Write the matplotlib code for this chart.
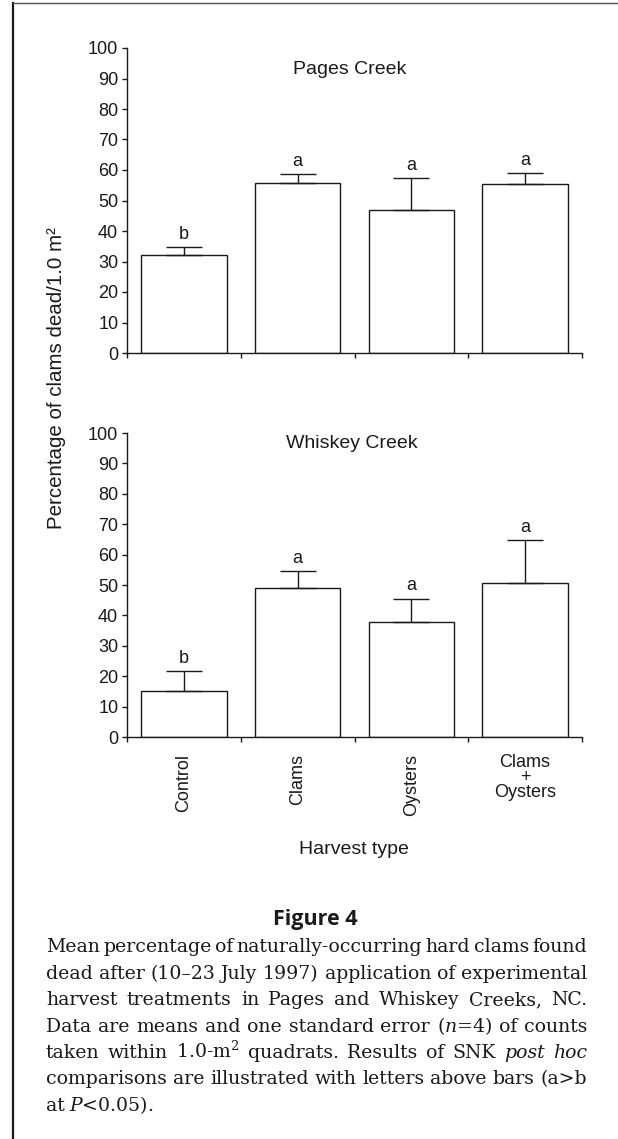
import matplotlib
matplotlib.use("Agg")
import matplotlib.pyplot as plt
import numpy as np
from matplotlib.lines import Line2D

plt.rcParams['font.family'] = ['Liberation Sans', 'DejaVu Sans']
plt.rcParams['mathtext.fontset'] = 'dejavuserif'

# data
treatments = ['Control', 'Clams', 'Oysters', 'Clams\n+\nOysters']
pages_mean = [32.0, 55.8, 46.8, 55.4]
pages_se = [2.7, 2.8, 10.5, 3.6]
pages_letters = ['b', 'a', 'a', 'a']
whiskey_mean = [15.1, 48.9, 37.9, 50.5]
whiskey_se = [6.6, 5.6, 7.6, 14.2]
whiskey_letters = ['b', 'a', 'a', 'a']

caption_lines = [
    "Mean percentage of naturally-occurring hard clams found",
    "dead after (10\u201323 July 1997) application of experimental",
    "harvest treatments in Pages and Whiskey Creeks, NC.",
    "Data are means and one standard error ($n$=4) of counts",
    "taken within 1.0-m$^2$ quadrats. Results of SNK post hoc",
    "comparisons are illustrated with letters above bars (a>b",
    "at $P$<0.05).",
]
italic_words = ['post', 'hoc']

W, H = 618, 1139
fig = plt.figure(figsize=(W / 100, H / 100), dpi=100)
ink = '#1a1a1a'


def panel(rect, means, ses, letters, title, title_xy, show_labels):
    ax = fig.add_axes(rect)
    x = np.arange(len(means))
    ax.bar(x, means, width=0.75, facecolor='white', edgecolor=ink, linewidth=1.0, zorder=2)
    ax.errorbar(x, means, yerr=[np.zeros(len(ses)), ses], fmt='none', ecolor=ink,
                elinewidth=1.0, capsize=13, capthick=1.0, zorder=3)
    for xi, m, s, l in zip(x, means, ses, letters):
        ax.text(xi, m + s + 2.8, l, ha='center', va='baseline', fontsize=13, color=ink)
    ax.text(title_xy[0], title_xy[1], title, ha='center', va='center', fontsize=14, color=ink)
    ax.set_xlim(-0.5, len(means) - 0.5)
    ax.set_ylim(0, 100)
    ax.set_yticks(np.arange(0, 101, 10))
    ax.set_xticks(np.arange(len(means) + 1) - 0.5)
    ax.set_xticklabels([])
    ax.spines['top'].set_visible(False)
    ax.spines['right'].set_visible(False)
    for s in ['left', 'bottom']:
        ax.spines[s].set_linewidth(1.0)
        ax.spines[s].set_color(ink)
    ax.tick_params(axis='both', direction='out', length=3.8, width=1.0, color=ink,
                   labelsize=13, labelcolor=ink, pad=2.5)
    if show_labels:
        ax.set_xticks(x, minor=True)
        ax.set_xticklabels(treatments, minor=True)
        ax.tick_params(axis='x', which='minor', length=0, pad=12, labelsize=13, labelcolor=ink)
        for lbl in ax.get_xticklabels(minor=True):
            if '\n' in lbl.get_text():
                lbl.set_rotation(0)
                lbl.set_linespacing(0.85)
            else:
                lbl.set_rotation(90)
    return ax


ax1 = panel([127 / W, 1 - 353 / H, 455 / W, 305 / H], pages_mean, pages_se, pages_letters,
            'Pages Creek', (1.46, 93.1), False)
ax2 = panel([127 / W, 1 - 737 / H, 455 / W, 304 / H], whiskey_mean, whiskey_se, whiskey_letters,
            'Whiskey Creek', (1.48, 96.4), True)

fig.text(57 / W, 1 - 378 / H, 'Percentage of clams dead/1.0 m\u00b2', rotation=90,
         ha='center', va='center', fontsize=14.8, color=ink)
fig.text(354 / W, 1 - 850 / H, 'Harvest type', ha='center', va='center', fontsize=14, color=ink)

fig.text(315 / W, 1 - 919 / H, 'Figure 4', ha='center', va='center', fontsize=15.5,
         family='Open Sans', weight='bold', color=ink)

# justified caption, font size chosen so the widest line just fits
renderer = fig.canvas.get_renderer()
left, right = 46, 587
base0, step = 952.5, 26.4
fs0 = 16.0


def make_words(line, fs):
    out = []
    for w in line.split():
        st = 'italic' if w in italic_words else 'normal'
        out.append(fig.text(0, 0, w, fontsize=fs, family='DejaVu Serif', style=st,
                            va='baseline', ha='left', color=ink))
    return out


probe = fig.text(0, 0, 'a a', fontsize=fs0, family='DejaVu Serif')
probe2 = fig.text(0, 0, 'aa', fontsize=fs0, family='DejaVu Serif')
space0 = probe.get_window_extent(renderer).width - probe2.get_window_extent(renderer).width
probe.remove()
probe2.remove()

all_words = [make_words(line, fs0) for line in caption_lines]
natural = []
for words in all_words:
    ws = [t.get_window_extent(renderer).width for t in words]
    natural.append(sum(ws) + 0.5 * space0 * (len(ws) - 1))
scale = min(1.0, (right - left) / max(natural))
fs = fs0 * scale
space = space0 * scale

for i, words in enumerate(all_words):
    for t in words:
        t.set_fontsize(fs)
    ws = [t.get_window_extent(renderer).width for t in words]
    if i == len(all_words) - 1:
        gap = space * 0.7
    else:
        gap = (right - left - sum(ws)) / (len(ws) - 1)
    xpos = left
    y = 1 - (base0 + i * step) / H
    for t, w in zip(words, ws):
        t.set_position((xpos / W, y))
        xpos += w + gap

# page frame (top and left rule)
fig.add_artist(Line2D([13 / W, 13 / W], [0, 1 - 3 / H], transform=fig.transFigure,
                      color=ink, lw=1.6))
fig.add_artist(Line2D([13 / W, 1], [1 - 3 / H, 1 - 3 / H], transform=fig.transFigure,
                      color='#555555', lw=1.0))

fig.savefig('out.png', dpi=100)
